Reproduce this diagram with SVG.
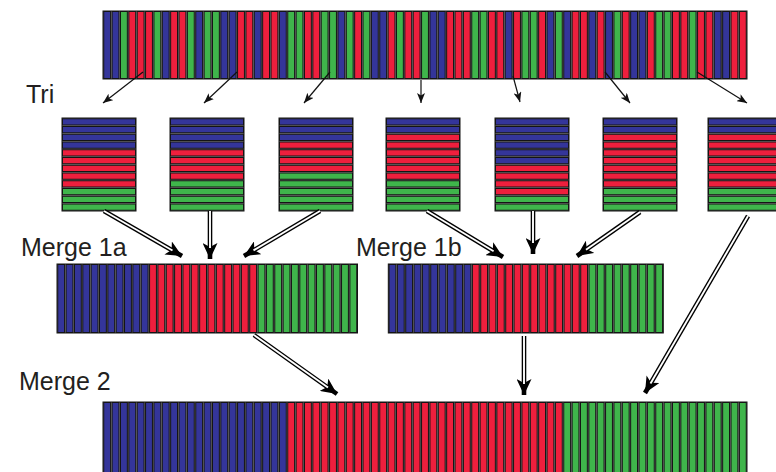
<svg xmlns="http://www.w3.org/2000/svg" width="776" height="472" viewBox="0 0 776 472">
<style>
.b{fill:#34359a}.r{fill:#ee1f3d}.g{fill:#3fb54b}
.bar rect,.blk rect{stroke:#141414;stroke-width:1}
.bg{fill:#8a8a8a;stroke:#9a9a9a;stroke-width:1}
.lbl{font-family:"Liberation Sans",Arial,sans-serif;font-size:25px;fill:#231f20}
.thin{stroke:#111;stroke-width:1.2;fill:none;marker-end:url(#ah)}
.dbo{stroke:#000;stroke-width:4.6;fill:none;marker-end:url(#dh)}
.dbi{stroke:#fff;stroke-width:1.9;fill:none}
</style>
<defs>
<marker id="ah" markerUnits="userSpaceOnUse" markerWidth="12" markerHeight="8" refX="10" refY="4" orient="auto"><path d="M0,0 L10,4 L0,8 L2.5,4 z" fill="#111"/></marker>
<marker id="dh" markerUnits="userSpaceOnUse" markerWidth="17" markerHeight="15" refX="16" refY="7.5" orient="auto"><path d="M0,0 L16,7.5 L0,15 L4,7.5 z" fill="#000"/></marker>
</defs>
<rect width="776" height="472" fill="#fff"/>

<g id="unsorted" class="bar">
<rect class="bg" x="103" y="11" width="644" height="68"/>
<g transform="translate(0,11.5)">
<rect class="b" x="103.75" y="0" width="6.86" height="67"/>
<rect class="b" x="112.11" y="0" width="6.86" height="67"/>
<rect class="g" x="120.48" y="0" width="6.86" height="67"/>
<rect class="r" x="128.84" y="0" width="6.86" height="67"/>
<rect class="r" x="137.2" y="0" width="6.86" height="67"/>
<rect class="r" x="145.57" y="0" width="6.86" height="67"/>
<rect class="g" x="153.93" y="0" width="6.86" height="67"/>
<rect class="b" x="162.3" y="0" width="6.86" height="67"/>
<rect class="r" x="170.66" y="0" width="6.86" height="67"/>
<rect class="r" x="179.02" y="0" width="6.86" height="67"/>
<rect class="g" x="187.39" y="0" width="6.86" height="67"/>
<rect class="b" x="195.75" y="0" width="6.86" height="67"/>
<rect class="g" x="204.11" y="0" width="6.86" height="67"/>
<rect class="g" x="212.48" y="0" width="6.86" height="67"/>
<rect class="b" x="220.84" y="0" width="6.86" height="67"/>
<rect class="b" x="229.2" y="0" width="6.86" height="67"/>
<rect class="r" x="237.57" y="0" width="6.86" height="67"/>
<rect class="r" x="245.93" y="0" width="6.86" height="67"/>
<rect class="b" x="254.3" y="0" width="6.86" height="67"/>
<rect class="r" x="262.66" y="0" width="6.86" height="67"/>
<rect class="r" x="271.02" y="0" width="6.86" height="67"/>
<rect class="b" x="279.39" y="0" width="6.86" height="67"/>
<rect class="g" x="287.75" y="0" width="6.86" height="67"/>
<rect class="g" x="296.11" y="0" width="6.86" height="67"/>
<rect class="r" x="304.48" y="0" width="6.86" height="67"/>
<rect class="r" x="312.84" y="0" width="6.86" height="67"/>
<rect class="g" x="321.2" y="0" width="6.86" height="67"/>
<rect class="g" x="329.57" y="0" width="6.86" height="67"/>
<rect class="b" x="337.93" y="0" width="6.86" height="67"/>
<rect class="g" x="346.3" y="0" width="6.86" height="67"/>
<rect class="r" x="354.66" y="0" width="6.86" height="67"/>
<rect class="g" x="363.02" y="0" width="6.86" height="67"/>
<rect class="b" x="371.39" y="0" width="6.86" height="67"/>
<rect class="b" x="379.75" y="0" width="6.86" height="67"/>
<rect class="r" x="388.11" y="0" width="6.86" height="67"/>
<rect class="g" x="396.48" y="0" width="6.86" height="67"/>
<rect class="r" x="404.84" y="0" width="6.86" height="67"/>
<rect class="r" x="413.2" y="0" width="6.86" height="67"/>
<rect class="g" x="421.57" y="0" width="6.86" height="67"/>
<rect class="b" x="429.93" y="0" width="6.86" height="67"/>
<rect class="b" x="438.3" y="0" width="6.86" height="67"/>
<rect class="r" x="446.66" y="0" width="6.86" height="67"/>
<rect class="r" x="455.02" y="0" width="6.86" height="67"/>
<rect class="r" x="463.39" y="0" width="6.86" height="67"/>
<rect class="g" x="471.75" y="0" width="6.86" height="67"/>
<rect class="g" x="480.11" y="0" width="6.86" height="67"/>
<rect class="r" x="488.48" y="0" width="6.86" height="67"/>
<rect class="r" x="496.84" y="0" width="6.86" height="67"/>
<rect class="b" x="505.2" y="0" width="6.86" height="67"/>
<rect class="r" x="513.57" y="0" width="6.86" height="67"/>
<rect class="g" x="521.93" y="0" width="6.86" height="67"/>
<rect class="g" x="530.3" y="0" width="6.86" height="67"/>
<rect class="r" x="538.66" y="0" width="6.86" height="67"/>
<rect class="b" x="547.02" y="0" width="6.86" height="67"/>
<rect class="g" x="555.39" y="0" width="6.86" height="67"/>
<rect class="b" x="563.75" y="0" width="6.86" height="67"/>
<rect class="r" x="572.11" y="0" width="6.86" height="67"/>
<rect class="r" x="580.48" y="0" width="6.86" height="67"/>
<rect class="b" x="588.84" y="0" width="6.86" height="67"/>
<rect class="r" x="597.2" y="0" width="6.86" height="67"/>
<rect class="b" x="605.57" y="0" width="6.86" height="67"/>
<rect class="g" x="613.93" y="0" width="6.86" height="67"/>
<rect class="r" x="622.3" y="0" width="6.86" height="67"/>
<rect class="b" x="630.66" y="0" width="6.86" height="67"/>
<rect class="b" x="639.02" y="0" width="6.86" height="67"/>
<rect class="r" x="647.39" y="0" width="6.86" height="67"/>
<rect class="g" x="655.75" y="0" width="6.86" height="67"/>
<rect class="g" x="664.11" y="0" width="6.86" height="67"/>
<rect class="r" x="672.48" y="0" width="6.86" height="67"/>
<rect class="r" x="680.84" y="0" width="6.86" height="67"/>
<rect class="g" x="689.2" y="0" width="6.86" height="67"/>
<rect class="r" x="697.57" y="0" width="6.86" height="67"/>
<rect class="r" x="705.93" y="0" width="6.86" height="67"/>
<rect class="b" x="714.3" y="0" width="6.86" height="67"/>
<rect class="b" x="722.66" y="0" width="6.86" height="67"/>
<rect class="r" x="731.02" y="0" width="6.86" height="67"/>
<rect class="r" x="739.39" y="0" width="6.86" height="67"/>
</g>
</g>

<g id="block1" class="blk" transform="translate(62,118)">
<rect class="bg" x="0" y="0" width="74" height="93"/>
<rect class="b" x="0.5" y="0.75" width="73" height="6.25"/>
<rect class="b" x="0.5" y="8.5" width="73" height="6.25"/>
<rect class="b" x="0.5" y="16.25" width="73" height="6.25"/>
<rect class="b" x="0.5" y="24" width="73" height="6.25"/>
<rect class="r" x="0.5" y="31.75" width="73" height="6.25"/>
<rect class="r" x="0.5" y="39.5" width="73" height="6.25"/>
<rect class="r" x="0.5" y="47.25" width="73" height="6.25"/>
<rect class="r" x="0.5" y="55" width="73" height="6.25"/>
<rect class="r" x="0.5" y="62.75" width="73" height="6.25"/>
<rect class="g" x="0.5" y="70.5" width="73" height="6.25"/>
<rect class="g" x="0.5" y="78.25" width="73" height="6.25"/>
<rect class="g" x="0.5" y="86" width="73" height="6.25"/>
</g>
<g id="block2" class="blk" transform="translate(170,118)">
<rect class="bg" x="0" y="0" width="74" height="93"/>
<rect class="b" x="0.5" y="0.75" width="73" height="6.25"/>
<rect class="b" x="0.5" y="8.5" width="73" height="6.25"/>
<rect class="b" x="0.5" y="16.25" width="73" height="6.25"/>
<rect class="b" x="0.5" y="24" width="73" height="6.25"/>
<rect class="r" x="0.5" y="31.75" width="73" height="6.25"/>
<rect class="r" x="0.5" y="39.5" width="73" height="6.25"/>
<rect class="r" x="0.5" y="47.25" width="73" height="6.25"/>
<rect class="r" x="0.5" y="55" width="73" height="6.25"/>
<rect class="g" x="0.5" y="62.75" width="73" height="6.25"/>
<rect class="g" x="0.5" y="70.5" width="73" height="6.25"/>
<rect class="g" x="0.5" y="78.25" width="73" height="6.25"/>
<rect class="g" x="0.5" y="86" width="73" height="6.25"/>
</g>
<g id="block3" class="blk" transform="translate(279,118)">
<rect class="bg" x="0" y="0" width="74" height="93"/>
<rect class="b" x="0.5" y="0.75" width="73" height="6.25"/>
<rect class="b" x="0.5" y="8.5" width="73" height="6.25"/>
<rect class="b" x="0.5" y="16.25" width="73" height="6.25"/>
<rect class="r" x="0.5" y="24" width="73" height="6.25"/>
<rect class="r" x="0.5" y="31.75" width="73" height="6.25"/>
<rect class="r" x="0.5" y="39.5" width="73" height="6.25"/>
<rect class="r" x="0.5" y="47.25" width="73" height="6.25"/>
<rect class="g" x="0.5" y="55" width="73" height="6.25"/>
<rect class="g" x="0.5" y="62.75" width="73" height="6.25"/>
<rect class="g" x="0.5" y="70.5" width="73" height="6.25"/>
<rect class="g" x="0.5" y="78.25" width="73" height="6.25"/>
<rect class="g" x="0.5" y="86" width="73" height="6.25"/>
</g>
<g id="block4" class="blk" transform="translate(386,118)">
<rect class="bg" x="0" y="0" width="74" height="93"/>
<rect class="b" x="0.5" y="0.75" width="73" height="6.25"/>
<rect class="b" x="0.5" y="8.5" width="73" height="6.25"/>
<rect class="r" x="0.5" y="16.25" width="73" height="6.25"/>
<rect class="r" x="0.5" y="24" width="73" height="6.25"/>
<rect class="r" x="0.5" y="31.75" width="73" height="6.25"/>
<rect class="r" x="0.5" y="39.5" width="73" height="6.25"/>
<rect class="r" x="0.5" y="47.25" width="73" height="6.25"/>
<rect class="r" x="0.5" y="55" width="73" height="6.25"/>
<rect class="g" x="0.5" y="62.75" width="73" height="6.25"/>
<rect class="g" x="0.5" y="70.5" width="73" height="6.25"/>
<rect class="g" x="0.5" y="78.25" width="73" height="6.25"/>
<rect class="g" x="0.5" y="86" width="73" height="6.25"/>
</g>
<g id="block5" class="blk" transform="translate(495,118)">
<rect class="bg" x="0" y="0" width="74" height="93"/>
<rect class="b" x="0.5" y="0.75" width="73" height="6.25"/>
<rect class="b" x="0.5" y="8.5" width="73" height="6.25"/>
<rect class="b" x="0.5" y="16.25" width="73" height="6.25"/>
<rect class="b" x="0.5" y="24" width="73" height="6.25"/>
<rect class="b" x="0.5" y="31.75" width="73" height="6.25"/>
<rect class="b" x="0.5" y="39.5" width="73" height="6.25"/>
<rect class="r" x="0.5" y="47.25" width="73" height="6.25"/>
<rect class="r" x="0.5" y="55" width="73" height="6.25"/>
<rect class="r" x="0.5" y="62.75" width="73" height="6.25"/>
<rect class="r" x="0.5" y="70.5" width="73" height="6.25"/>
<rect class="g" x="0.5" y="78.25" width="73" height="6.25"/>
<rect class="g" x="0.5" y="86" width="73" height="6.25"/>
</g>
<g id="block6" class="blk" transform="translate(603,118)">
<rect class="bg" x="0" y="0" width="74" height="93"/>
<rect class="b" x="0.5" y="0.75" width="73" height="6.25"/>
<rect class="b" x="0.5" y="8.5" width="73" height="6.25"/>
<rect class="r" x="0.5" y="16.25" width="73" height="6.25"/>
<rect class="r" x="0.5" y="24" width="73" height="6.25"/>
<rect class="r" x="0.5" y="31.75" width="73" height="6.25"/>
<rect class="r" x="0.5" y="39.5" width="73" height="6.25"/>
<rect class="r" x="0.5" y="47.25" width="73" height="6.25"/>
<rect class="r" x="0.5" y="55" width="73" height="6.25"/>
<rect class="r" x="0.5" y="62.75" width="73" height="6.25"/>
<rect class="g" x="0.5" y="70.5" width="73" height="6.25"/>
<rect class="g" x="0.5" y="78.25" width="73" height="6.25"/>
<rect class="g" x="0.5" y="86" width="73" height="6.25"/>
</g>
<g id="block7" class="blk" transform="translate(708,118)">
<rect class="bg" x="0" y="0" width="74" height="93"/>
<rect class="b" x="0.5" y="0.75" width="73" height="6.25"/>
<rect class="b" x="0.5" y="8.5" width="73" height="6.25"/>
<rect class="r" x="0.5" y="16.25" width="73" height="6.25"/>
<rect class="r" x="0.5" y="24" width="73" height="6.25"/>
<rect class="r" x="0.5" y="31.75" width="73" height="6.25"/>
<rect class="r" x="0.5" y="39.5" width="73" height="6.25"/>
<rect class="r" x="0.5" y="47.25" width="73" height="6.25"/>
<rect class="r" x="0.5" y="55" width="73" height="6.25"/>
<rect class="r" x="0.5" y="62.75" width="73" height="6.25"/>
<rect class="g" x="0.5" y="70.5" width="73" height="6.25"/>
<rect class="g" x="0.5" y="78.25" width="73" height="6.25"/>
<rect class="g" x="0.5" y="86" width="73" height="6.25"/>
</g>

<g id="merge1a" class="bar">
<rect class="bg" x="57" y="264" width="300.5" height="69"/>
<g transform="translate(0,264.5)">
<rect class="b" x="57.75" y="0" width="6.85" height="68"/>
<rect class="b" x="66.1" y="0" width="6.85" height="68"/>
<rect class="b" x="74.44" y="0" width="6.85" height="68"/>
<rect class="b" x="82.79" y="0" width="6.85" height="68"/>
<rect class="b" x="91.14" y="0" width="6.85" height="68"/>
<rect class="b" x="99.49" y="0" width="6.85" height="68"/>
<rect class="b" x="107.83" y="0" width="6.85" height="68"/>
<rect class="b" x="116.18" y="0" width="6.85" height="68"/>
<rect class="b" x="124.53" y="0" width="6.85" height="68"/>
<rect class="b" x="132.87" y="0" width="6.85" height="68"/>
<rect class="b" x="141.22" y="0" width="6.85" height="68"/>
<rect class="r" x="149.57" y="0" width="6.85" height="68"/>
<rect class="r" x="157.91" y="0" width="6.85" height="68"/>
<rect class="r" x="166.26" y="0" width="6.85" height="68"/>
<rect class="r" x="174.61" y="0" width="6.85" height="68"/>
<rect class="r" x="182.95" y="0" width="6.85" height="68"/>
<rect class="r" x="191.3" y="0" width="6.85" height="68"/>
<rect class="r" x="199.65" y="0" width="6.85" height="68"/>
<rect class="r" x="207.99" y="0" width="6.85" height="68"/>
<rect class="r" x="216.34" y="0" width="6.85" height="68"/>
<rect class="r" x="224.69" y="0" width="6.85" height="68"/>
<rect class="r" x="233.04" y="0" width="6.85" height="68"/>
<rect class="r" x="241.38" y="0" width="6.85" height="68"/>
<rect class="r" x="249.73" y="0" width="6.85" height="68"/>
<rect class="g" x="258.08" y="0" width="6.85" height="68"/>
<rect class="g" x="266.42" y="0" width="6.85" height="68"/>
<rect class="g" x="274.77" y="0" width="6.85" height="68"/>
<rect class="g" x="283.12" y="0" width="6.85" height="68"/>
<rect class="g" x="291.46" y="0" width="6.85" height="68"/>
<rect class="g" x="299.81" y="0" width="6.85" height="68"/>
<rect class="g" x="308.16" y="0" width="6.85" height="68"/>
<rect class="g" x="316.5" y="0" width="6.85" height="68"/>
<rect class="g" x="324.85" y="0" width="6.85" height="68"/>
<rect class="g" x="333.2" y="0" width="6.85" height="68"/>
<rect class="g" x="341.54" y="0" width="6.85" height="68"/>
<rect class="g" x="349.89" y="0" width="6.85" height="68"/>
</g>
</g>

<g id="merge1b" class="bar">
<rect class="bg" x="388.3" y="264" width="275" height="69"/>
<g transform="translate(0,264.5)">
<rect class="b" x="389.05" y="0" width="6.83" height="68"/>
<rect class="b" x="397.38" y="0" width="6.83" height="68"/>
<rect class="b" x="405.72" y="0" width="6.83" height="68"/>
<rect class="b" x="414.05" y="0" width="6.83" height="68"/>
<rect class="b" x="422.38" y="0" width="6.83" height="68"/>
<rect class="b" x="430.72" y="0" width="6.83" height="68"/>
<rect class="b" x="439.05" y="0" width="6.83" height="68"/>
<rect class="b" x="447.38" y="0" width="6.83" height="68"/>
<rect class="b" x="455.72" y="0" width="6.83" height="68"/>
<rect class="b" x="464.05" y="0" width="6.83" height="68"/>
<rect class="r" x="472.38" y="0" width="6.83" height="68"/>
<rect class="r" x="480.72" y="0" width="6.83" height="68"/>
<rect class="r" x="489.05" y="0" width="6.83" height="68"/>
<rect class="r" x="497.38" y="0" width="6.83" height="68"/>
<rect class="r" x="505.72" y="0" width="6.83" height="68"/>
<rect class="r" x="514.05" y="0" width="6.83" height="68"/>
<rect class="r" x="522.38" y="0" width="6.83" height="68"/>
<rect class="r" x="530.72" y="0" width="6.83" height="68"/>
<rect class="r" x="539.05" y="0" width="6.83" height="68"/>
<rect class="r" x="547.38" y="0" width="6.83" height="68"/>
<rect class="r" x="555.72" y="0" width="6.83" height="68"/>
<rect class="r" x="564.05" y="0" width="6.83" height="68"/>
<rect class="r" x="572.38" y="0" width="6.83" height="68"/>
<rect class="r" x="580.72" y="0" width="6.83" height="68"/>
<rect class="g" x="589.05" y="0" width="6.83" height="68"/>
<rect class="g" x="597.38" y="0" width="6.83" height="68"/>
<rect class="g" x="605.72" y="0" width="6.83" height="68"/>
<rect class="g" x="614.05" y="0" width="6.83" height="68"/>
<rect class="g" x="622.38" y="0" width="6.83" height="68"/>
<rect class="g" x="630.72" y="0" width="6.83" height="68"/>
<rect class="g" x="639.05" y="0" width="6.83" height="68"/>
<rect class="g" x="647.38" y="0" width="6.83" height="68"/>
<rect class="g" x="655.72" y="0" width="6.83" height="68"/>
</g>
</g>

<g id="merge2" class="bar">
<rect class="bg" x="103" y="402" width="644" height="80"/>
<g transform="translate(0,402.5)">
<rect class="b" x="103.75" y="0" width="6.86" height="79"/>
<rect class="b" x="112.11" y="0" width="6.86" height="79"/>
<rect class="b" x="120.48" y="0" width="6.86" height="79"/>
<rect class="b" x="128.84" y="0" width="6.86" height="79"/>
<rect class="b" x="137.2" y="0" width="6.86" height="79"/>
<rect class="b" x="145.57" y="0" width="6.86" height="79"/>
<rect class="b" x="153.93" y="0" width="6.86" height="79"/>
<rect class="b" x="162.3" y="0" width="6.86" height="79"/>
<rect class="b" x="170.66" y="0" width="6.86" height="79"/>
<rect class="b" x="179.02" y="0" width="6.86" height="79"/>
<rect class="b" x="187.39" y="0" width="6.86" height="79"/>
<rect class="b" x="195.75" y="0" width="6.86" height="79"/>
<rect class="b" x="204.11" y="0" width="6.86" height="79"/>
<rect class="b" x="212.48" y="0" width="6.86" height="79"/>
<rect class="b" x="220.84" y="0" width="6.86" height="79"/>
<rect class="b" x="229.2" y="0" width="6.86" height="79"/>
<rect class="b" x="237.57" y="0" width="6.86" height="79"/>
<rect class="b" x="245.93" y="0" width="6.86" height="79"/>
<rect class="b" x="254.3" y="0" width="6.86" height="79"/>
<rect class="b" x="262.66" y="0" width="6.86" height="79"/>
<rect class="b" x="271.02" y="0" width="6.86" height="79"/>
<rect class="b" x="279.39" y="0" width="6.86" height="79"/>
<rect class="r" x="287.75" y="0" width="6.86" height="79"/>
<rect class="r" x="296.11" y="0" width="6.86" height="79"/>
<rect class="r" x="304.48" y="0" width="6.86" height="79"/>
<rect class="r" x="312.84" y="0" width="6.86" height="79"/>
<rect class="r" x="321.2" y="0" width="6.86" height="79"/>
<rect class="r" x="329.57" y="0" width="6.86" height="79"/>
<rect class="r" x="337.93" y="0" width="6.86" height="79"/>
<rect class="r" x="346.3" y="0" width="6.86" height="79"/>
<rect class="r" x="354.66" y="0" width="6.86" height="79"/>
<rect class="r" x="363.02" y="0" width="6.86" height="79"/>
<rect class="r" x="371.39" y="0" width="6.86" height="79"/>
<rect class="r" x="379.75" y="0" width="6.86" height="79"/>
<rect class="r" x="388.11" y="0" width="6.86" height="79"/>
<rect class="r" x="396.48" y="0" width="6.86" height="79"/>
<rect class="r" x="404.84" y="0" width="6.86" height="79"/>
<rect class="r" x="413.2" y="0" width="6.86" height="79"/>
<rect class="r" x="421.57" y="0" width="6.86" height="79"/>
<rect class="r" x="429.93" y="0" width="6.86" height="79"/>
<rect class="r" x="438.3" y="0" width="6.86" height="79"/>
<rect class="r" x="446.66" y="0" width="6.86" height="79"/>
<rect class="r" x="455.02" y="0" width="6.86" height="79"/>
<rect class="r" x="463.39" y="0" width="6.86" height="79"/>
<rect class="r" x="471.75" y="0" width="6.86" height="79"/>
<rect class="r" x="480.11" y="0" width="6.86" height="79"/>
<rect class="r" x="488.48" y="0" width="6.86" height="79"/>
<rect class="r" x="496.84" y="0" width="6.86" height="79"/>
<rect class="r" x="505.2" y="0" width="6.86" height="79"/>
<rect class="r" x="513.57" y="0" width="6.86" height="79"/>
<rect class="r" x="521.93" y="0" width="6.86" height="79"/>
<rect class="r" x="530.3" y="0" width="6.86" height="79"/>
<rect class="r" x="538.66" y="0" width="6.86" height="79"/>
<rect class="r" x="547.02" y="0" width="6.86" height="79"/>
<rect class="r" x="555.39" y="0" width="6.86" height="79"/>
<rect class="g" x="563.75" y="0" width="6.86" height="79"/>
<rect class="g" x="572.11" y="0" width="6.86" height="79"/>
<rect class="g" x="580.48" y="0" width="6.86" height="79"/>
<rect class="g" x="588.84" y="0" width="6.86" height="79"/>
<rect class="g" x="597.2" y="0" width="6.86" height="79"/>
<rect class="g" x="605.57" y="0" width="6.86" height="79"/>
<rect class="g" x="613.93" y="0" width="6.86" height="79"/>
<rect class="g" x="622.3" y="0" width="6.86" height="79"/>
<rect class="g" x="630.66" y="0" width="6.86" height="79"/>
<rect class="g" x="639.02" y="0" width="6.86" height="79"/>
<rect class="g" x="647.39" y="0" width="6.86" height="79"/>
<rect class="g" x="655.75" y="0" width="6.86" height="79"/>
<rect class="g" x="664.11" y="0" width="6.86" height="79"/>
<rect class="g" x="672.48" y="0" width="6.86" height="79"/>
<rect class="g" x="680.84" y="0" width="6.86" height="79"/>
<rect class="g" x="689.2" y="0" width="6.86" height="79"/>
<rect class="g" x="697.57" y="0" width="6.86" height="79"/>
<rect class="g" x="705.93" y="0" width="6.86" height="79"/>
<rect class="g" x="714.3" y="0" width="6.86" height="79"/>
<rect class="g" x="722.66" y="0" width="6.86" height="79"/>
<rect class="g" x="731.02" y="0" width="6.86" height="79"/>
<rect class="g" x="739.39" y="0" width="6.86" height="79"/>
</g>
</g>

<g id="labels">
<text class="lbl" x="26" y="103">Tri</text>
<text class="lbl" x="21" y="256">Merge 1a</text>
<text class="lbl" x="356" y="256">Merge 1b</text>
<text class="lbl" x="19" y="390">Merge 2</text>
</g>

<g id="connectors">
<line class="thin" x1="143" y1="72" x2="103" y2="103"/>
<line class="thin" x1="237" y1="72" x2="204" y2="103"/>
<line class="thin" x1="330" y1="72" x2="304" y2="103"/>
<line class="thin" x1="421" y1="80" x2="421" y2="103"/>
<line class="thin" x1="513" y1="76" x2="520" y2="102"/>
<line class="thin" x1="605" y1="72" x2="630" y2="103"/>
<line class="thin" x1="697" y1="72" x2="747" y2="103"/>

<line class="dbo" x1="104" y1="211" x2="182" y2="256"/>
<line class="dbi" x1="104" y1="211" x2="172.5" y2="250.5"/>
<line class="dbo" x1="210" y1="211" x2="210" y2="259"/>
<line class="dbi" x1="210" y1="211" x2="210" y2="248"/>
<line class="dbo" x1="320" y1="211" x2="244" y2="256"/>
<line class="dbi" x1="320" y1="211" x2="253.5" y2="250.4"/>
<line class="dbo" x1="427" y1="211" x2="503" y2="257"/>
<line class="dbi" x1="427" y1="211" x2="493.6" y2="251.3"/>
<line class="dbo" x1="533" y1="211" x2="533" y2="254"/>
<line class="dbi" x1="533" y1="211" x2="533" y2="243"/>
<line class="dbo" x1="640" y1="212" x2="577" y2="256"/>
<line class="dbi" x1="640" y1="212" x2="586" y2="249.7"/>
<line class="dbo" x1="748" y1="216" x2="645" y2="393"/>
<line class="dbi" x1="748" y1="216" x2="650.5" y2="383.5"/>
<line class="dbo" x1="254" y1="335" x2="337" y2="394"/>
<line class="dbi" x1="254" y1="335" x2="328" y2="387.6"/>
<line class="dbo" x1="524" y1="336" x2="524" y2="395"/>
<line class="dbi" x1="524" y1="336" x2="524" y2="384"/>
</g>
</svg>
